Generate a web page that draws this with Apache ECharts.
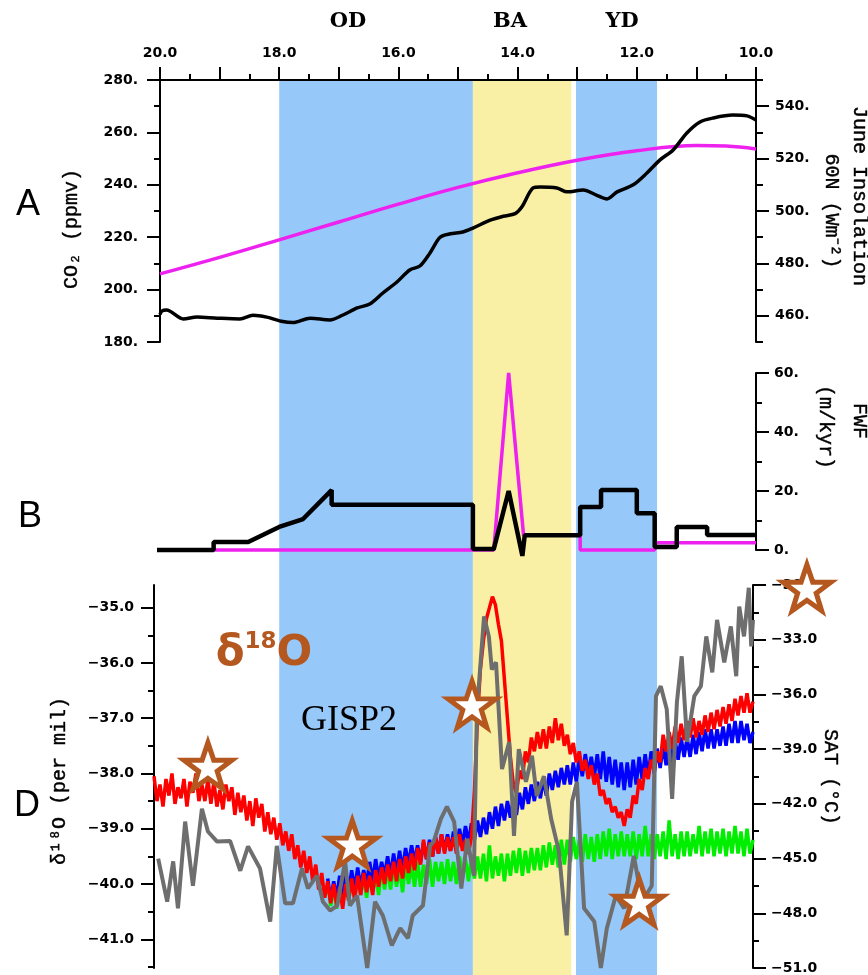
<!DOCTYPE html>
<html><head><meta charset="utf-8">
<script src="https://cdn.jsdelivr.net/npm/echarts@6/dist/echarts.min.js"></script>
<style>html,body{margin:0;padding:0;background:#fff}#c{width:868px;height:975px}</style>
</head><body><div id="c"></div>
<script>
// ---------- DATA ----------
// Event bands (ka BP)
const bandNames = ['OD', 'BA', 'YD'];
const bandStart = [18.0, 14.75, 13.02];
const bandEnd = [14.75, 13.1, 11.66];

// Panel A: CO2 (ppmv)
const co2Age = [20.0,19.97,19.89,19.61,19.38,19.04,18.66,18.44,18.21,17.94,17.77,17.48,17.15,16.93,16.69,16.48,16.26,16.02,15.81,15.64,15.47,15.30,15.13,14.92,14.75,14.46,14.24,14.04,13.93,13.74,13.62,13.34,13.17,12.90,12.67,12.50,12.33,12.06,11.83,11.61,11.39,11.16,10.94,10.72,10.39,10.15,10.0];
const co2Val = [190.5,191.8,192.2,188.8,189.5,189.1,188.8,190.2,189.5,187.8,187.4,189.1,188.4,190.3,193,194.5,198.7,203,207.5,209,214,220,221.3,222,223.5,226.5,228,229,231.5,238.8,239.2,238.8,237.3,238,236,234.6,237.3,240,244.5,249.5,253.3,259.8,264,265.5,266.6,266.3,264.7];
// Panel A: June insolation 60N (W m-2)
const insolAge = [20,19,18,17,16,15,14,13,12,11,10.5,10];
const insolVal = [476,482.3,489,495.8,502.6,509,514.6,519.4,523,525,524.8,523.7];

// Panel B: freshwater forcing (m/kyr)
const fwfAge = [20.12,19.1,19.1,18.52,18.0,17.6,17.12,17.12,14.75,14.75,14.4,14.15,13.92,13.88,12.95,12.95,12.6,12.6,12.0,12.0,11.7,11.7,11.33,11.33,10.82,10.82,10.0];
const fwfBlack = [0,0,2.7,2.7,7.8,10.5,20.3,15.3,15.3,0.3,0.3,20,-2,5,5,14.6,14.6,20.3,20.3,12.5,12.5,1,1,7.8,7.8,5.1,5.1];
const fwfMagAge = [19.1,14.4,14.15,13.9,12.95,12.95,11.7,11.7,10.0];
const fwfMag = [0,0,60,5,5,0,0,2.5,2.5];

// Panel D: model d18O time axis (ka)
const modelAges = [
20,19.95,19.9,19.85,19.8,19.75,19.7,19.65,19.6,19.55,
19.5,19.45,19.4,19.35,19.3,19.25,19.2,19.15,19.1,19.05,
19,18.95,18.9,18.85,18.8,18.75,18.7,18.65,18.6,18.55,
18.5,18.45,18.4,18.35,18.3,18.25,18.2,18.15,18.1,18.05,
18,17.95,17.9,17.85,17.8,17.75,17.7,17.65,17.6,17.55,
17.5,17.45,17.4,17.35,17.3,17.25,17.2,17.15,17.1,17.05,
17,16.95,16.9,16.85,16.8,16.75,16.7,16.65,16.6,16.55,
16.5,16.45,16.4,16.35,16.3,16.25,16.2,16.15,16.1,16.05,
16,15.95,15.9,15.85,15.8,15.75,15.7,15.65,15.6,15.55,
15.5,15.45,15.4,15.35,15.3,15.25,15.2,15.15,15.1,15.05,
15,14.95,14.9,14.85,14.8,14.75,14.7,14.65,14.6,14.55,
14.5,14.45,14.4,14.35,14.3,14.25,14.2,14.15,14.1,14.05,
14,13.95,13.9,13.85,13.8,13.75,13.7,13.65,13.6,13.55,
13.5,13.45,13.4,13.35,13.3,13.25,13.2,13.15,13.1,13.05,
13,12.95,12.9,12.85,12.8,12.75,12.7,12.65,12.6,12.55,
12.5,12.45,12.4,12.35,12.3,12.25,12.2,12.15,12.1,12.05,
12,11.95,11.9,11.85,11.8,11.75,11.7,11.65,11.6,11.55,
11.5,11.45,11.4,11.35,11.3,11.25,11.2,11.15,11.1,11.05,
11,10.95,10.9,10.85,10.8,10.75,10.7,10.65,10.6,10.55,
10.5,10.45,10.4,10.35,10.3,10.25,10.2,10.15,10.1,10.05,
10];
const redVal = [
-38.05,-38.5,-38.2,-38.6,-38.1,-38.4,-38.0,-38.55,-38.25,-38.45,
-38.1,-38.6,-38.15,-38.35,-38.0,-38.5,-38.2,-38.5,-38.1,-38.55,
-38.15,-38.6,-38.3,-38.65,-38.2,-38.5,-38.25,-38.75,-38.35,-38.7,
-38.4,-38.85,-38.5,-38.95,-38.45,-38.8,-38.55,-39.05,-38.7,-39.1,
-38.8,-39.2,-38.9,-39.3,-39.05,-39.4,-39.1,-39.55,-39.3,-39.7,
-39.4,-39.8,-39.5,-39.95,-39.65,-40.1,-39.8,-40.25,-39.95,-40.35,
-40.0,-40.4,-40.05,-40.45,-40.0,-40.3,-39.9,-40.3,-39.85,-40.2,
-39.8,-40.15,-39.85,-40.2,-39.75,-40.05,-39.7,-40.0,-39.65,-39.95,
-39.6,-39.95,-39.55,-39.9,-39.5,-39.8,-39.45,-39.75,-39.35,-39.65,
-39.2,-39.55,-39.25,-39.5,-39.15,-39.45,-39.1,-39.45,-39.15,-39.4,
-39.15,-39.45,-39.1,-39.4,-39.2,-39.45,-39.15,-38.3,-37.0,-36.1,
-35.6,-35.2,-35.0,-34.8,-34.95,-35.3,-35.6,-36.3,-37.0,-37.7,
-38.2,-38.35,-37.95,-38.1,-37.6,-37.8,-37.35,-37.6,-37.25,-37.55,
-37.2,-37.55,-37.15,-37.45,-37.0,-37.4,-37.1,-37.5,-37.3,-37.65,
-37.45,-37.8,-37.6,-37.95,-37.75,-38.1,-37.85,-38.2,-38.0,-38.4,
-38.3,-38.55,-38.45,-38.7,-38.6,-38.8,-38.7,-38.95,-38.65,-38.8,
-38.4,-38.55,-38.1,-38.3,-37.9,-38.1,-37.75,-37.95,-37.6,-37.8,
-37.3,-37.6,-37.25,-37.55,-37.15,-37.45,-37.1,-37.4,-37.05,-37.35,
-37.0,-37.35,-37.05,-37.3,-36.95,-37.25,-36.9,-37.2,-36.85,-37.15,
-36.8,-37.1,-36.75,-37.05,-36.65,-36.95,-36.6,-36.9,-36.55,-36.9,
-36.7];
const blueStartAge = 17.1;
const blueVal = [
-39.9,-40.3,-39.95,-40.25,-39.85,-40.2,-39.8,-40.15,-39.75,-40.1,
-39.7,-40.05,-39.75,-40.0,-39.6,-39.95,-39.55,-39.9,-39.6,-39.85,
-39.5,-39.85,-39.45,-39.8,-39.4,-39.75,-39.35,-39.65,-39.3,-39.6,
-39.3,-39.6,-39.25,-39.55,-39.2,-39.5,-39.15,-39.45,-39.1,-39.4,
-39.1,-39.4,-39.05,-39.35,-39.0,-39.3,-38.95,-39.25,-38.9,-39.2,
-38.85,-39.15,-38.8,-39.1,-38.7,-39.0,-38.6,-38.95,-38.55,-38.85,
-38.5,-38.8,-38.45,-38.75,-38.35,-38.65,-38.25,-38.55,-38.2,-38.5,
-38.15,-38.45,-38.1,-38.4,-38.0,-38.3,-37.95,-38.25,-37.9,-38.2,
-37.85,-38.2,-37.8,-38.15,-37.7,-38.05,-37.65,-38.0,-37.7,-38.05,
-37.65,-38.1,-37.6,-38.15,-37.7,-38.2,-37.75,-38.25,-37.8,-38.3,
-37.8,-38.25,-37.75,-38.2,-37.7,-38.1,-37.65,-38.05,-37.6,-38.0,
-37.55,-37.9,-37.5,-37.85,-37.45,-37.8,-37.4,-37.75,-37.35,-37.7,
-37.35,-37.7,-37.3,-37.65,-37.25,-37.6,-37.2,-37.55,-37.2,-37.55,
-37.2,-37.5,-37.15,-37.5,-37.1,-37.45,-37.05,-37.45,-37.05,-37.4,
-37.1,-37.45,-37.25];
const greenStartAge = 17.1;
const greenVal = [
-40.0,-40.4,-40.05,-40.45,-39.95,-40.35,-39.9,-40.3,-39.95,-40.25,
-39.8,-40.2,-39.85,-40.25,-39.75,-40.15,-39.8,-40.2,-39.7,-40.1,
-39.7,-40.1,-39.65,-40.05,-39.7,-40.15,-39.6,-40.0,-39.65,-40.05,
-39.6,-40.05,-39.65,-40.0,-39.55,-40.05,-39.6,-39.95,-39.6,-40.0,
-39.55,-39.95,-39.6,-40.0,-39.5,-39.9,-39.55,-39.95,-39.5,-39.9,
-39.5,-39.9,-39.45,-39.95,-39.3,-39.9,-39.5,-39.85,-39.45,-39.95,
-39.45,-39.85,-39.4,-39.8,-39.35,-39.85,-39.4,-39.8,-39.35,-39.75,
-39.35,-39.75,-39.3,-39.7,-39.25,-39.65,-39.3,-39.7,-39.2,-39.65,
-39.2,-39.6,-39.15,-39.55,-39.2,-39.6,-39.1,-39.55,-39.15,-39.6,
-39.1,-39.55,-39.05,-39.5,-39.0,-39.55,-39.1,-39.5,-39.05,-39.5,
-39.1,-39.5,-39.05,-39.55,-39.1,-39.5,-38.95,-39.5,-39.1,-39.55,
-39.1,-39.5,-39.05,-39.55,-38.85,-39.5,-39.1,-39.55,-39.05,-39.5,
-39.05,-39.5,-39.1,-39.45,-38.95,-39.5,-39.05,-39.45,-39.0,-39.5,
-39.05,-39.45,-39.0,-39.5,-39.05,-39.45,-38.95,-39.45,-39.05,-39.5,
-39.0,-39.45,-39.2];
// GISP2 d18O
const grayAge = [19.93,19.78,19.68,19.60,19.48,19.35,19.20,19.10,18.95,18.73,18.56,18.43,18.23,18.06,17.95,17.81,17.68,17.53,17.43,17.28,17.18,17.06,16.94,16.81,16.73,16.61,16.44,16.31,16.18,16.03,15.89,15.76,15.68,15.51,15.39,15.33,15.21,15.11,14.99,14.87,14.77,14.66,14.61,14.49,14.41,14.36,14.29,14.19,14.07,13.99,13.91,13.79,13.69,13.61,13.49,13.37,13.24,13.11,13.02,12.94,12.82,12.65,12.54,12.44,12.29,12.15,11.99,11.85,11.69,11.62,11.54,11.44,11.35,11.27,11.19,11.10,10.98,10.87,10.78,10.68,10.60,10.48,10.37,10.28,10.23,10.15,10.07,10.03,10.00];
const grayVal = [-39.54,-40.32,-39.59,-40.44,-38.87,-40.03,-38.64,-39.05,-39.23,-39.22,-39.76,-39.32,-39.72,-40.68,-39.31,-40.35,-40.35,-39.72,-40.08,-39.85,-40.32,-40.48,-40.39,-39.59,-40.39,-40.21,-41.52,-40.32,-40.57,-41.11,-40.80,-40.98,-40.57,-40.39,-39.31,-39.23,-38.82,-38.60,-38.87,-40.08,-39.18,-39.85,-36.89,-35.16,-35.52,-36.12,-35.99,-37.92,-37.43,-39.13,-37.56,-38.15,-37.68,-38.41,-38.05,-38.82,-39.41,-40.93,-38.51,-38.15,-40.44,-40.68,-41.52,-40.80,-40.21,-40.44,-39.49,-40.32,-40.03,-36.60,-36.42,-36.84,-38.46,-36.71,-35.88,-37.43,-36.60,-36.42,-35.52,-36.17,-35.22,-35.99,-35.34,-36.24,-34.98,-35.52,-34.64,-35.70,-35.22];
// Star markers
const starAge = [19.10,16.69,14.69,11.90,9.10];
const starVal = [-37.86,-39.27,-36.75,-40.32,-34.64];

// Tick labels
const co2Ticks = [180,200,220,240,260,280];
const insolTicks = [460,480,500,520,540];
const insolMinor = [450,470,490,510,530,550];
const d18Ticks = [-41,-40,-39,-38,-37,-36,-35];
const d18Minor = [-41.5,-40.5,-39.5,-38.5,-37.5,-36.5,-35.5];

// ---------- CHART ----------
const K = '#000';
const BLUE = '#96C8FA', YELLOW = '#FAF0A5', MAG = '#EE22EE', BROWN = '#B4581F';
const LBL = {color:K, fontFamily:'DejaVu Sans', fontWeight:'bold', fontSize:14};
const LINE = {show:true, lineStyle:{color:K, width:2}};
const tick = (len, extra) => Object.assign({show:true, length:len, lineStyle:{color:K, width:2}}, extra || {});
const MINOR = {show:true, splitNumber:2, length:6, lineStyle:{color:K, width:2}};
const minus = v => (v < 0 ? '\u2212' : '') + Math.abs(v).toFixed(1);
const pair = (a, b) => a.map((x, i) => [x, b[i]]);
const sliceFrom = (age) => modelAges.slice(modelAges.indexOf(age));

const chart = echarts.init(document.getElementById('c'), null, {renderer:'canvas', width:868, height:975});

const TITLE_FONT = '20px "Liberation Mono"';
function vtext(txt, x, y, rot) {
  return {type:'text', x:x, y:y, rotation:rot, z:50,
    style:{text:txt, font:TITLE_FONT, fill:K, align:'center', verticalAlign:'middle', stroke:K, lineWidth:0.4}};
}
const bandLabelX = [348, 510, 622];

const option = {
  animation:false,
  backgroundColor:'#fff',
  grid:[
    {left:160, top:80, width:596, height:262},
    {left:160, top:373, width:596, height:177},
    {left:154, top:585, width:599, height:385},
    {left:160, top:81, width:596, height:894}
  ],
  xAxis:[
    {gridIndex:0, type:'value', position:'top', min:10, max:20, inverse:true, interval:1,
     axisLine:LINE, axisTick:tick(13), minorTick:MINOR, splitLine:{show:false}, minorSplitLine:{show:false},
     axisLabel:Object.assign({}, LBL, {margin:20, showMinLabel:true, showMaxLabel:true,
       formatter: v => (Math.abs(v % 2) < 1e-6 ? v.toFixed(1) : '')})},
    {gridIndex:1, type:'value', min:10, max:20, inverse:true, show:false},
    {gridIndex:2, type:'value', min:10, max:20, inverse:true, show:false},
    {gridIndex:3, type:'value', min:10, max:20, inverse:true, show:false}
  ],
  yAxis:[
    {gridIndex:0, type:'value', position:'left', min:180, max:280, interval:20,
     axisLine:LINE, axisTick:tick(13), minorTick:MINOR, splitLine:{show:false},
     axisLabel:Object.assign({}, LBL, {margin:22, formatter: v => v + '.'})},
    {gridIndex:0, type:'value', position:'right', min:450, max:550,
     axisLine:LINE, axisTick:tick(13, {customValues:insolTicks}), splitLine:{show:false},
     axisLabel:Object.assign({}, LBL, {margin:19, customValues:insolTicks, formatter: v => v + '.'})},
    {gridIndex:0, type:'value', position:'right', min:450, max:550,
     axisLine:{show:false}, axisTick:tick(7, {customValues:insolMinor}), splitLine:{show:false},
     axisLabel:{show:false}},
    {gridIndex:1, type:'value', position:'right', min:0, max:60, interval:20,
     axisLine:LINE, axisTick:tick(13), minorTick:MINOR, splitLine:{show:false},
     axisLabel:Object.assign({}, LBL, {margin:18, formatter: v => v + '.'})},
    {gridIndex:2, type:'value', position:'left', min:-41.52, max:-34.59,
     axisLine:LINE, axisTick:tick(13, {customValues:d18Ticks}), splitLine:{show:false},
     axisLabel:Object.assign({}, LBL, {margin:20, customValues:d18Ticks, formatter: minus})},
    {gridIndex:2, type:'value', position:'left', min:-41.52, max:-34.59,
     axisLine:{show:false}, axisTick:tick(6, {customValues:d18Minor}), splitLine:{show:false},
     axisLabel:{show:false}},
    {gridIndex:2, type:'value', position:'right', min:-51, max:-30, interval:3,
     axisLine:LINE, axisTick:tick(13), minorTick:MINOR, splitLine:{show:false},
     axisLabel:Object.assign({}, LBL, {margin:18, formatter: minus})},
    {gridIndex:3, type:'value', min:0, max:1, show:false}
  ],
  series:[
    {type:'line', xAxisIndex:3, yAxisIndex:7, data:[], silent:true, z:1,
     markArea:{silent:true, label:{show:false},
       data: bandStart.map((s, i) => [{xAxis:s, itemStyle:{color: bandNames[i] === 'BA' ? YELLOW : BLUE}}, {xAxis:bandEnd[i]}])}},
    {type:'line', xAxisIndex:0, yAxisIndex:1, data:pair(insolAge, insolVal), smooth:0.4, showSymbol:false, symbol:'none',
     lineStyle:{color:MAG, width:3.5}, z:3},
    {type:'line', xAxisIndex:0, yAxisIndex:0, data:pair(co2Age, co2Val), smooth:0.3, showSymbol:false, symbol:'none',
     lineStyle:{color:K, width:3.5}, z:4},
    {type:'line', xAxisIndex:1, yAxisIndex:3, data:pair(fwfMagAge, fwfMag), showSymbol:false, symbol:'none', clip:false,
     lineStyle:{color:MAG, width:3.5}, z:3},
    {type:'line', xAxisIndex:1, yAxisIndex:3, data:pair(fwfAge, fwfBlack), showSymbol:false, symbol:'none', clip:false,
     lineStyle:{color:K, width:4.5}, z:4},
    {type:'line', xAxisIndex:2, yAxisIndex:4, data:pair(sliceFrom(greenStartAge), greenVal), showSymbol:false, symbol:'none',
     lineStyle:{color:'#00EE00', width:3.5}, z:3},
    {type:'line', xAxisIndex:2, yAxisIndex:4, data:pair(sliceFrom(blueStartAge), blueVal), showSymbol:false, symbol:'none',
     lineStyle:{color:'#0000FF', width:3.5}, z:4},
    {type:'line', xAxisIndex:2, yAxisIndex:4, data:pair(modelAges, redVal), showSymbol:false, symbol:'none',
     lineStyle:{color:'#FF0000', width:3.5}, z:5},
    {type:'line', xAxisIndex:2, yAxisIndex:4, data:pair(grayAge, grayVal), showSymbol:false, symbol:'none',
     lineStyle:{color:'#6E6E6E', width:4}, z:6},
    {type:'scatter', xAxisIndex:2, yAxisIndex:4, data:pair(starAge, starVal), clip:false, z:10,
     symbol:'path://M50,0 L62,35 L99,35 L69,57 L80,92 L50,71 L20,92 L31,57 L1,35 L38,35 Z',
     symbolSize:[48, 46],
     itemStyle:{color:'#fff', borderColor:BROWN, borderWidth:5, opacity:1}}
  ],
  graphic:[
    ...bandNames.map((n, i) => ({type:'text', x:bandLabelX[i], y:22, z:50,
      style:{text:n, font:'bold 21px "DejaVu Serif"', fill:K, align:'center', verticalAlign:'middle'}})),
    {type:'text', x:28, y:205, z:50, style:{text:'A', font:'36px "Liberation Sans"', fill:K, align:'center', verticalAlign:'middle'}},
    {type:'text', x:30, y:517, z:50, style:{text:'B', font:'36px "Liberation Sans"', fill:K, align:'center', verticalAlign:'middle'}},
    {type:'text', x:27, y:806, z:50, style:{text:'D', font:'36px "Liberation Sans"', fill:K, align:'center', verticalAlign:'middle'}},
    vtext('CO\u2082 (ppmv)', 72, 229, Math.PI / 2),
    vtext('\u03b4\u00b9\u2078O (per mil)', 60, 781, Math.PI / 2),
    vtext('June Insolation', 859, 196, -Math.PI / 2),
    vtext('60N (Wm\u207b\u00b2)', 831, 211, -Math.PI / 2),
    vtext('FWF', 859, 421, -Math.PI / 2),
    vtext('(m/kyr)', 825, 427, -Math.PI / 2),
    vtext('SAT (\u00b0C)', 830, 777, -Math.PI / 2),
    {type:'text', x:264, y:654, z:50,
     style:{text:'{a|\u03b4}{s|18}{a|O}', fill:BROWN, align:'center', verticalAlign:'middle',
       rich:{a:{fontSize:42, fontWeight:'bold', fontFamily:'DejaVu Sans', fill:BROWN, color:BROWN, lineHeight:46},
             s:{fontSize:23, fontWeight:'bold', fontFamily:'DejaVu Sans', fill:BROWN, color:BROWN, lineHeight:26, verticalAlign:'top'}}}},
    {type:'text', x:349, y:721, z:50, style:{text:'GISP2', font:'36px "Liberation Serif"', fill:K, align:'center', verticalAlign:'middle'}}
  ]
};
chart.setOption(option);
</script>
</body></html>
